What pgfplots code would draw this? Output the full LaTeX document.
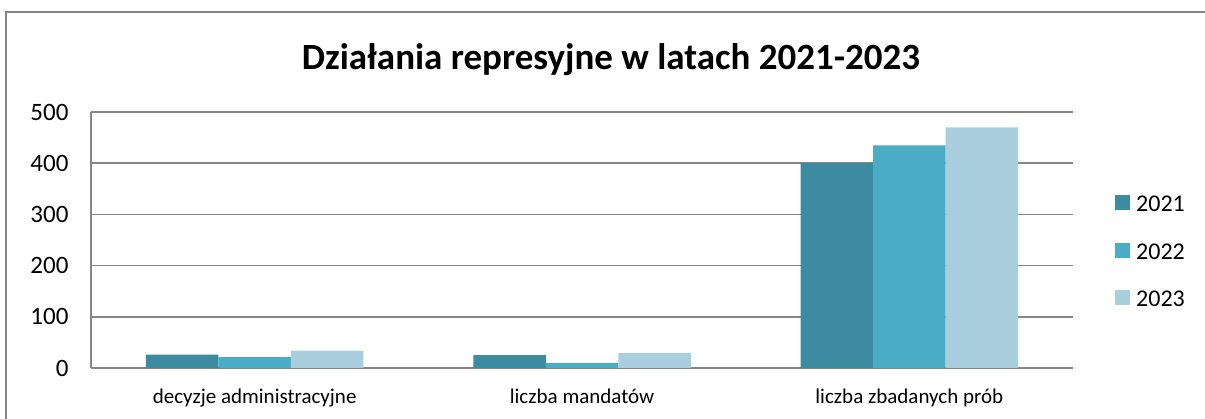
\documentclass[border=0pt]{standalone}
\usepackage{pgfplots}
\pgfplotsset{compat=1.18}
\usepackage{fontspec}
\setmainfont{Carlito}
\definecolor{c2021}{RGB}{60,139,160}
\definecolor{c2022}{RGB}{75,172,198}
\definecolor{c2023}{RGB}{169,206,221}
\definecolor{gridgray}{RGB}{134,134,134}
\begin{document}
\begin{tikzpicture}[x=1pt,y=1pt]
\useasboundingbox (-91,-51) rectangle (1114,368);
% ramka obszaru wykresu
\draw[gridgray, line width=1.2pt] (-85,-51) -- (-85,356) -- (1114,356);
\begin{axis}[
    at={(0,0)}, anchor=south west,
    scale only axis,
    width=982pt, height=256pt,
    ybar=0pt, bar width=72.5pt,
    ymin=0, ymax=500, ytick={0,100,...,500},
    xmin=-0.5, xmax=2.5,
    xtick={0,1,2},
    xticklabels={decyzje administracyjne, liczba mandatów, liczba zbadanych prób},
    separate axis lines,
    axis x line*=bottom, axis y line*=left,
    axis line style={-, draw=gridgray, line width=1.6pt},
    major tick length=0pt,
    ymajorgrids,
    grid style={draw=gridgray, line width=1.6pt},
    /pgf/number format/assume math mode=true,
    yticklabel style={font=\fontsize{25}{30}\selectfont, xshift=-19pt},
    xticklabel style={font=\fontsize{21}{25}\selectfont, yshift=-17pt},
    legend style={at={(1.0428,0.452)}, anchor=west, draw=none, fill=none,
      inner sep=0pt, font=\fontsize{24}{28}\selectfont,
      row sep=26.5pt},
    legend cell align=left,
    legend image code/.code={\fill[#1] (0pt,-5.5pt) rectangle (15pt,9.5pt);
      \path (15pt,0pt) -- (19pt,0pt);},
    ]
\addplot [fill=c2021, draw=none] coordinates {(0,26) (1,25) (2,400)};
\addplot [fill=c2022, draw=none] coordinates {(0,21) (1,10) (2,435)};
\addplot [fill=c2023, draw=none] coordinates {(0,34) (1,29) (2,470)};
\legend{2021,2022,2023}
\end{axis}
\node[anchor=base, font=\fontsize{37}{44}\selectfont\bfseries] at (520,298) {Działania represyjne w latach 2021-2023};
\end{tikzpicture}
\end{document}
